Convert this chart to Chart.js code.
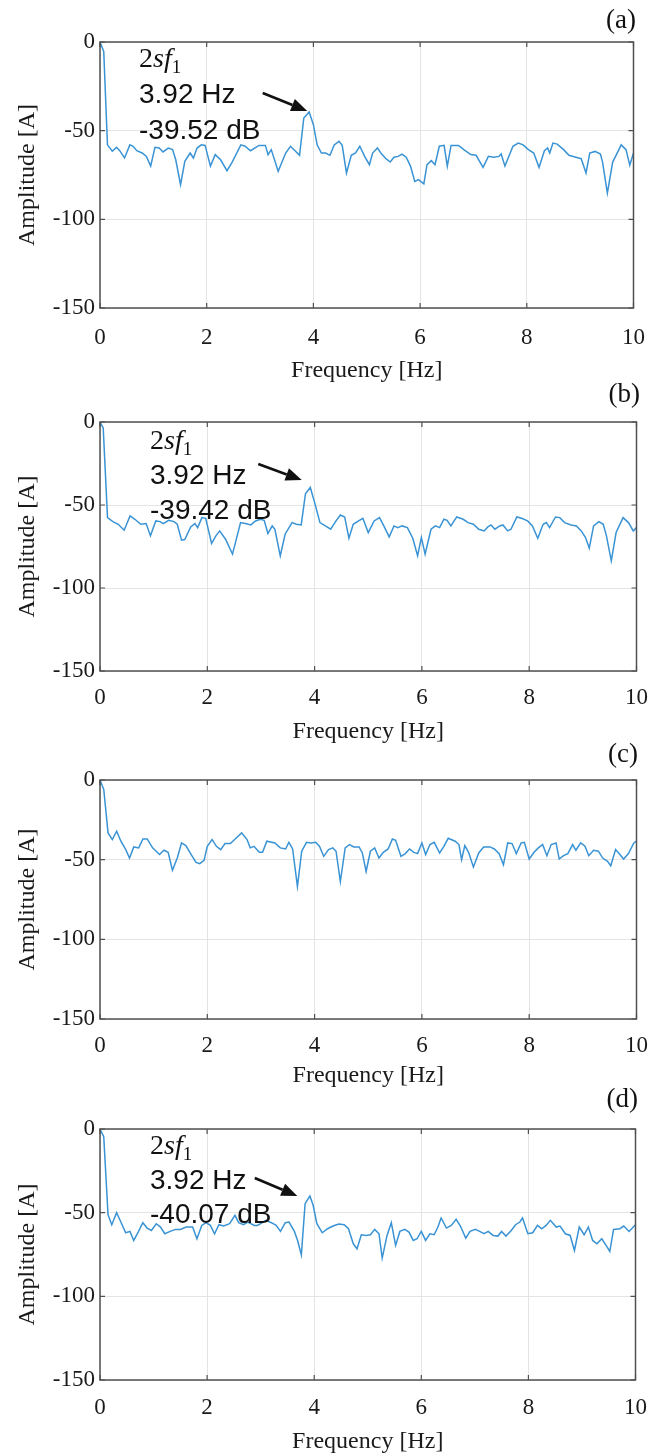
<!DOCTYPE html>
<html>
<head>
<meta charset="utf-8">
<script src="https://cdn.jsdelivr.net/npm/chart.js@4.4.0/dist/chart.umd.min.js"></script>
<style>
body { margin: 0; background: #fff; width: 661px; height: 1455px; position: relative; overflow: hidden; }
canvas { position: absolute; left: 0; }
.lbl { position: absolute; font-family: "Liberation Serif", serif; font-size: 27px; line-height: 1; color: #111; text-align: right; }
.ann { position: absolute; font-family: "Liberation Sans", sans-serif; font-size: 28px; line-height: 1; color: #111; white-space: nowrap; }
.ann.sf { font-family: "Liberation Serif", serif; }
.ann .sub { font-size: 19px; position: relative; top: 6px; }
</style>
</head>
<body>
<canvas id="chartA" width="661" height="390" style="top:0px"></canvas>
<canvas id="chartB" width="661" height="375" style="top:380px"></canvas>
<canvas id="chartC" width="661" height="355" style="top:740px"></canvas>
<canvas id="chartD" width="661" height="370" style="top:1085px"></canvas>

<div class="lbl" style="right:25px;top:6px">(a)</div>
<div class="lbl" style="right:21px;top:380px">(b)</div>
<div class="lbl" style="right:23px;top:740px">(c)</div>
<div class="lbl" style="right:23px;top:1085px">(d)</div>

<div class="ann sf" style="left:139px;top:44px">2<i>sf</i><span class="sub">1</span></div>
<div class="ann" style="left:139px;top:80px">3.92 Hz</div>
<div class="ann" style="left:139px;top:116px">-39.52 dB</div>

<div class="ann sf" style="left:150px;top:426px">2<i>sf</i><span class="sub">1</span></div>
<div class="ann" style="left:150px;top:461px">3.92 Hz</div>
<div class="ann" style="left:150px;top:496px">-39.42 dB</div>

<div class="ann sf" style="left:150px;top:1131px">2<i>sf</i><span class="sub">1</span></div>
<div class="ann" style="left:150px;top:1166px">3.92 Hz</div>
<div class="ann" style="left:150px;top:1200px">-40.07 dB</div>

<script>
var xTicks = [0, 2, 4, 6, 8, 10];
var yTicks = [0, -50, -100, -150];

// (a)
var freqA = [0, 0.07, 0.14, 0.23, 0.31, 0.37, 0.46, 0.56, 0.62, 0.69,
    0.79, 0.87, 0.95, 1.03, 1.11, 1.18, 1.28, 1.36, 1.42, 1.51,
    1.59, 1.69, 1.75, 1.82, 1.9, 1.97, 2.07, 2.16, 2.26, 2.38,
    2.47, 2.64, 2.72, 2.82, 2.98, 3.1, 3.15, 3.21, 3.34, 3.48,
    3.57, 3.67, 3.74, 3.82, 3.92, 4.0, 4.07, 4.15, 4.23, 4.31,
    4.39, 4.48, 4.54, 4.62, 4.71, 4.79, 4.87, 4.96, 5.05, 5.11,
    5.2, 5.28, 5.36, 5.44, 5.51, 5.59, 5.66, 5.74, 5.82, 5.9,
    5.97, 6.07, 6.13, 6.21, 6.28, 6.36, 6.45, 6.51, 6.58, 6.72,
    6.82, 6.95, 7.05, 7.18, 7.28, 7.38, 7.48, 7.52, 7.59, 7.74,
    7.84, 7.93, 8.03, 8.13, 8.23, 8.33, 8.39, 8.43, 8.49, 8.57,
    8.69, 8.79, 8.92, 9.02, 9.11, 9.18, 9.28, 9.38, 9.42, 9.51,
    9.61, 9.77, 9.86, 9.93, 10];
var ampA = [0, -5.3, -58, -61.6, -59.4, -61.3, -65.4, -58, -58.8, -61.3,
    -62.6, -64.5, -70, -59.4, -59.8, -62, -59.8, -60.7, -66.4, -80.5,
    -67.3, -62.6, -65.4, -59.8, -58, -58.3, -70, -63.5, -66.4, -72.6,
    -68.2, -58, -58.8, -61.3, -58.3, -58.3, -63.5, -60.7, -72.9, -62.6,
    -58.8, -61.7, -63.9, -42.9, -39.52, -46.6, -58, -62.6, -62.6, -63.9,
    -58, -56, -58.3, -73.9, -63.9, -62.6, -58.8, -64.5, -69.2, -62.6,
    -59.8, -63.2, -65.8, -67.7, -65, -64.5, -63.2, -65, -70, -78.6,
    -77.6, -80, -69.2, -66.9, -69.2, -58.8, -58.3, -70, -58.3, -58.3,
    -60.7, -63.5, -63.9, -70.7, -64.5, -65, -64.5, -63.2, -70, -58.8,
    -57, -58, -60.7, -62.6, -70.7, -61.3, -59.8, -62.6, -57, -57.6,
    -60.7, -63.9, -65, -65.8, -73.9, -62.6, -61.7, -63.2, -67.7, -85.2,
    -67.7, -58, -60.7, -69.5, -62.6];

// (b)
var freqB = [0, 0.06, 0.14, 0.24, 0.34, 0.45, 0.56, 0.65, 0.76, 0.86,
    0.94, 1.04, 1.12, 1.18, 1.28, 1.38, 1.44, 1.52, 1.58, 1.69,
    1.77, 1.82, 1.9, 1.97, 2.08, 2.16, 2.23, 2.34, 2.47, 2.62,
    2.71, 2.81, 2.9, 2.99, 3.06, 3.13, 3.21, 3.26, 3.36, 3.45,
    3.58, 3.66, 3.75, 3.83, 3.92, 4.01, 4.1, 4.2, 4.3, 4.4,
    4.48, 4.56, 4.64, 4.72, 4.82, 4.9, 5.0, 5.11, 5.21, 5.29,
    5.39, 5.48, 5.55, 5.63, 5.73, 5.83, 5.92, 5.99, 6.06, 6.17,
    6.25, 6.33, 6.41, 6.47, 6.54, 6.65, 6.77, 6.86, 6.96, 7.06,
    7.16, 7.23, 7.29, 7.36, 7.45, 7.51, 7.6, 7.66, 7.77, 7.86,
    7.97, 8.06, 8.16, 8.26, 8.32, 8.38, 8.49, 8.57, 8.66, 8.78,
    8.88, 8.97, 9.05, 9.12, 9.2, 9.3, 9.38, 9.44, 9.53, 9.62,
    9.75, 9.85, 9.94, 10];
var ampB = [0, -3.6, -57.6, -60, -61.6, -65.2, -56.6, -58.6, -61.6, -61.2,
    -68.6, -59.6, -60, -61.2, -59.2, -60, -61.6, -71.2, -70.8, -63.2,
    -61.2, -63.6, -57.6, -58, -73.2, -68.6, -65.6, -70.6, -79.6, -60.6,
    -61.2, -62, -59.6, -58.6, -59.2, -67.2, -62.6, -64.6, -80.6, -67.6,
    -60.6, -61.6, -62, -43.2, -39.42, -49.6, -60.6, -62.6, -64.6, -59.6,
    -56, -57.2, -70, -61.6, -59.6, -58, -66.6, -59.6, -57.6, -62.6,
    -69.2, -62.6, -63.6, -62.6, -63.6, -70, -80.6, -69.6, -79.6, -64.6,
    -62.6, -63.6, -58.6, -59.2, -62.6, -57.2, -58.6, -60.6, -61.6, -64.6,
    -65.6, -63.2, -62, -64.6, -62.6, -62, -65.6, -64.6, -57.2, -58,
    -59.6, -62.6, -70, -61.6, -60.6, -63.6, -57.2, -57.6, -60.6, -62,
    -62.6, -65.6, -69.6, -76, -62.6, -60, -61.6, -68.6, -83.6, -66.6,
    -57.6, -60.6, -65.6, -63.6];

// (c)
var freqC = [0, 0.07, 0.15, 0.23, 0.31, 0.39, 0.48, 0.55, 0.63, 0.72,
    0.8, 0.88, 0.98, 1.11, 1.19, 1.27, 1.35, 1.44, 1.52, 1.6,
    1.7, 1.79, 1.86, 1.94, 2.0, 2.09, 2.17, 2.25, 2.33, 2.43,
    2.52, 2.64, 2.74, 2.8, 2.87, 2.97, 3.03, 3.11, 3.26, 3.36,
    3.46, 3.52, 3.59, 3.68, 3.76, 3.85, 3.93, 4.02, 4.09, 4.17,
    4.26, 4.34, 4.4, 4.48, 4.57, 4.65, 4.73, 4.83, 4.89, 4.96,
    5.04, 5.12, 5.2, 5.28, 5.37, 5.45, 5.51, 5.61, 5.69, 5.77,
    5.85, 5.92, 6.0, 6.07, 6.15, 6.23, 6.33, 6.41, 6.49, 6.62,
    6.69, 6.74, 6.8, 6.87, 6.96, 7.06, 7.15, 7.27, 7.35, 7.44,
    7.52, 7.6, 7.68, 7.76, 7.85, 7.91, 8.0, 8.09, 8.17, 8.25,
    8.33, 8.41, 8.5, 8.56, 8.64, 8.72, 8.81, 8.87, 8.96, 9.04,
    9.11, 9.2, 9.29, 9.37, 9.46, 9.52, 9.61, 9.69, 9.76, 9.85,
    9.95, 10];
var ampC = [0, -5.9, -33.2, -37.4, -32.1, -38.4, -43.7, -49, -42, -42.6,
    -37, -37, -42.6, -46.8, -44.1, -45.4, -56.7, -49, -39.5, -41.2,
    -46.8, -51.7, -52.5, -50.4, -41.6, -37.4, -41.6, -43.7, -39.9, -39.9,
    -37, -33.2, -37.4, -42.6, -41.6, -45.4, -45.4, -38.4, -39.5, -42.6,
    -43.3, -39.1, -43.3, -66.8, -44.7, -39.1, -39.5, -39.1, -41.6, -47.9,
    -43.7, -42.6, -44.7, -63.7, -42.6, -40.5, -42, -42, -45.8, -57.4,
    -44.7, -42.6, -49, -45.4, -43.3, -37, -37.8, -47.9, -46.2, -43.3,
    -45.4, -46.2, -39.5, -46.8, -40.5, -39.1, -45.8, -41.6, -36.6, -38.4,
    -40.5, -50, -41.2, -45.4, -54.6, -45.8, -42, -42, -43.3, -46.2,
    -53.2, -39.5, -39.9, -46.2, -39.5, -39.1, -49.6, -45.4, -42.6, -40.5,
    -47.5, -40.5, -39.5, -49.6, -47.5, -46.2, -40.5, -44.1, -39.5, -41.6,
    -47.5, -44.1, -44.7, -49, -51, -53.8, -43.7, -46.8, -49.6, -46.2,
    -39.5, -38.4];

// (d)
var freqD = [0, 0.07, 0.15, 0.22, 0.31, 0.39, 0.48, 0.56, 0.63, 0.72,
    0.8, 0.88, 0.96, 1.05, 1.13, 1.21, 1.31, 1.41, 1.5, 1.61,
    1.73, 1.81, 1.9, 1.98, 2.06, 2.14, 2.22, 2.31, 2.42, 2.52,
    2.59, 2.68, 2.76, 2.88, 2.94, 3.03, 3.1, 3.2, 3.29, 3.37,
    3.46, 3.53, 3.63, 3.69, 3.76, 3.83, 3.92, 3.98, 4.05, 4.15,
    4.25, 4.35, 4.46, 4.56, 4.64, 4.73, 4.8, 4.88, 4.97, 5.05,
    5.13, 5.21, 5.27, 5.36, 5.44, 5.52, 5.6, 5.69, 5.77, 5.85,
    5.92, 6.0, 6.08, 6.16, 6.24, 6.31, 6.37, 6.47, 6.56, 6.65,
    6.73, 6.83, 6.91, 7.01, 7.09, 7.17, 7.25, 7.34, 7.43, 7.5,
    7.58, 7.68, 7.76, 7.84, 7.89, 7.99, 8.08, 8.17, 8.25, 8.33,
    8.41, 8.52, 8.59, 8.69, 8.78, 8.86, 8.95, 9.04, 9.12, 9.2,
    9.28, 9.37, 9.46, 9.52, 9.59, 9.71, 9.78, 9.88, 10];
var ampD = [0, -4.6, -51.2, -57.2, -50, -55.6, -62, -61.2, -66.6, -61.2,
    -56, -59.2, -60.6, -56.6, -58.6, -62.6, -61.2, -60, -60, -58.6,
    -58.6, -65.6, -57.6, -56, -57.6, -62.6, -57.2, -58, -56.6, -51.6,
    -56, -57.2, -55.6, -57.6, -57.6, -56, -54.6, -56, -57.6, -61.2,
    -56, -55.6, -61.2, -66.6, -75.2, -44.6, -40.07, -45.6, -56.6, -62,
    -59.6, -58, -56.8, -57.2, -59.6, -68.6, -71.6, -63.2, -63.6, -63.2,
    -60, -62.6, -77.2, -63.6, -56, -69.6, -61.2, -60, -61.6, -66.6,
    -65.6, -61.2, -66.6, -62.6, -63.2, -58.6, -53.2, -59.2, -57.6, -54,
    -58, -65.2, -61.2, -60, -61.2, -62.6, -61.2, -63.6, -64, -61.2,
    -64, -60.6, -57.2, -55.6, -53.2, -62.6, -62, -57.6, -59.6, -57.6,
    -54.6, -58.6, -58, -62.6, -63.6, -72.6, -58.6, -63.2, -58.6, -66.6,
    -68.6, -65.6, -70, -73.2, -60, -59.6, -58, -61.2, -57.2];

// frame box, inner tick marks and the 2sf1 arrow
var framePlugin = {
    id: 'frame',
    afterDatasetsDraw: function(chart, args, opts) {
        var a = chart.chartArea, c = chart.ctx;
        var sx = chart.scales.x, sy = chart.scales.y;
        c.save();
        c.strokeStyle = '#505050';
        c.lineWidth = 1.5;
        c.strokeRect(a.left, a.top, a.right - a.left, a.bottom - a.top);
        c.lineWidth = 1.2;
        c.beginPath();
        xTicks.forEach(function(v) {
            var px = sx.getPixelForValue(v);
            c.moveTo(px, a.top); c.lineTo(px, a.top + 5);
            c.moveTo(px, a.bottom); c.lineTo(px, a.bottom - 5);
        });
        yTicks.forEach(function(v) {
            var py = sy.getPixelForValue(v);
            c.moveTo(a.left, py); c.lineTo(a.left + 5, py);
            c.moveTo(a.right, py); c.lineTo(a.right - 5, py);
        });
        c.stroke();
        if (opts.arrow) {
            var x0 = sx.getPixelForValue(opts.arrow[0]), y0 = sy.getPixelForValue(opts.arrow[1]);
            var x1 = sx.getPixelForValue(opts.arrow[2]), y1 = sy.getPixelForValue(opts.arrow[3]);
            var ang = Math.atan2(y1 - y0, x1 - x0);
            var len = 16, half = 6.5;
            var bx = x1 - len * Math.cos(ang), by = y1 - len * Math.sin(ang);
            c.strokeStyle = '#111';
            c.fillStyle = '#111';
            c.lineWidth = 2.6;
            c.beginPath();
            c.moveTo(x0, y0);
            c.lineTo(bx, by);
            c.stroke();
            c.beginPath();
            c.moveTo(x1, y1);
            c.lineTo(bx + half * Math.sin(ang), by - half * Math.cos(ang));
            c.lineTo(bx - half * Math.sin(ang), by + half * Math.cos(ang));
            c.closePath();
            c.fill();
        }
        c.restore();
    }
};

function makeChart(id, freq, amp, box, arrow) {
    var pts = freq.map(function(f, i) {
        return { x: f, y: amp[i] };
    });
    var tickFont = { family: 'Liberation Serif', size: 23 };
    var titleFont = { family: 'Liberation Serif', size: 24, lineHeight: 1 };
    return new Chart(document.getElementById(id), {
        type: 'line',
        data: {
            datasets: [{
                data: pts,
                borderColor: '#3993d4',
                borderWidth: 1.5,
                pointRadius: 0,
                tension: 0,
                fill: false
            }]
        },
        options: {
            responsive: false,
            animation: false,
            events: [],
            layout: { padding: { top: box.top, left: 0, right: 661 - box.right, bottom: 0 } },
            plugins: {
                legend: { display: false },
                tooltip: { enabled: false },
                frame: { arrow: arrow }
            },
            scales: {
                x: {
                    type: 'linear',
                    min: 0,
                    max: 10,
                    afterBuildTicks: function(s) {
                        s.ticks = xTicks.map(function(v) { return { value: v }; });
                    },
                    afterFit: function(s) { s.height = box.axisH; },
                    grid: { color: '#e4e4e4', drawTicks: false },
                    border: { display: false },
                    ticks: { font: tickFont, color: '#1a1a1a', padding: box.tickPad, maxRotation: 0 },
                    title: { display: true, text: 'Frequency [Hz]', font: titleFont, color: '#1a1a1a', padding: { top: 0, bottom: box.titlePad } }
                },
                y: {
                    min: -150,
                    max: 0,
                    afterBuildTicks: function(s) {
                        s.ticks = yTicks.map(function(v) { return { value: v }; });
                    },
                    afterFit: function(s) { s.width = 100; },
                    grid: { color: '#e4e4e4', drawTicks: false },
                    border: { display: false },
                    ticks: {
                        font: tickFont,
                        color: '#1a1a1a',
                        padding: 5,
                        callback: function(v) { return String(v); }
                    },
                    title: { display: true, text: 'Amplitude [A]', font: titleFont, color: '#1a1a1a', padding: { top: 16, bottom: 0 } }
                }
            }
        },
        plugins: [framePlugin]
    });
}

makeChart('chartA', freqA, ampA, { top: 42, right: 638, axisH: 82, tickPad: 16, titlePad: 7 }, [3.05, -28.8, 3.885, -38.9]);
makeChart('chartB', freqB, ampB, { top: 42, right: 645, axisH: 84, tickPad: 13, titlePad: 11 }, [2.95, -25.3, 3.76, -34.9]);
makeChart('chartC', freqC, ampC, { top: 40, right: 642, axisH: 76, tickPad: 13, titlePad: 7 }, null);
makeChart('chartD', freqD, ampD, { top: 44, right: 640, axisH: 75, tickPad: 14, titlePad: 1 }, [2.89, -29.3, 3.685, -40]);
</script>
</body>
</html>
